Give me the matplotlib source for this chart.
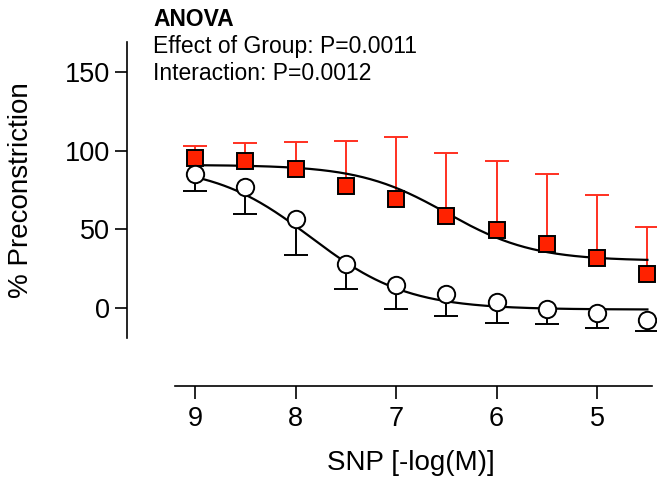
import numpy as np
import matplotlib
matplotlib.use("Agg")
import matplotlib.pyplot as plt

plt.rcParams['font.family'] = ['Liberation Sans', 'DejaVu Sans']

# Data
snp_x = [9.0, 8.5, 8.0, 7.5, 7.0, 6.5, 6.0, 5.5, 5.0, 4.5]
red_mean = [95.4, 93.5, 88.4, 77.6, 69.3, 58.5, 49.6, 40.7, 31.8, 21.6]
red_sem = [7.8, 11.2, 17.3, 28.8, 39.2, 39.8, 43.9, 44.7, 40.2, 29.7]
white_mean = [85.2, 76.7, 56.4, 27.8, 14.6, 8.7, 4.0, -0.6, -3.4, -7.6]
white_sem = [10.8, 16.9, 22.7, 15.5, 15.0, 13.8, 13.7, 9.8, 9.1, 7.0]

# Fitted sigmoid parameters (top, bottom, logEC50 in -log M, hill)
red_fit = dict(top=91.0, bottom=30.0, pec50=6.5, hill=1.0)
white_fit = dict(top=91.0, bottom=-1.0, pec50=7.85, hill=0.9)

xticks = [9, 8, 7, 6, 5]
yticks = [0, 50, 100, 150]

RED = '#FF2200'
RED_ERR = '#FF3020'

def sigmoid(x, p):
    return p['bottom'] + (p['top'] - p['bottom']) / (1 + 10 ** ((p['pec50'] - np.asarray(x)) * p['hill']))

fig = plt.figure(figsize=(6.57, 4.79), dpi=100)
ax = fig.add_axes([0.251, 0.2749, 0.7497, 0.6403])
ax.set_xlim(9.3, 4.4)
ax.set_ylim(-25, 170)

xs = np.linspace(max(snp_x), min(snp_x), 300)
ax.plot(xs, sigmoid(xs, red_fit), color='black', lw=1.6, zorder=2, clip_on=False)
ax.plot(xs, sigmoid(xs, white_fit), color='black', lw=1.6, zorder=2, clip_on=False)

# Error bars (one-sided)
eb = ax.errorbar(snp_x, red_mean, yerr=[np.zeros(len(red_sem)), red_sem], fmt='none',
                 ecolor=RED_ERR, elinewidth=1.4, capsize=8.5, capthick=1.4, zorder=1)
eb.lines[1][0].set_visible(False)
for a in eb.get_children():
    a.set_clip_on(False)
eb2 = ax.errorbar(snp_x, white_mean, yerr=[white_sem, np.zeros(len(white_sem))], fmt='none',
                  ecolor='black', elinewidth=1.4, capsize=8.5, capthick=1.4, zorder=1)
eb2.lines[1][1].set_visible(False)
for a in eb2.get_children():
    a.set_clip_on(False)

ax.plot(snp_x, red_mean, 's', ms=12, mfc=RED, mec='black', mew=1.4, ls='none', zorder=3, clip_on=False)
ax.plot(snp_x, white_mean, 'o', ms=12.5, mfc='white', mec='black', mew=1.4, ls='none', zorder=3, clip_on=False)

# Axes styling (detached spines)
for s in ['top', 'right']:
    ax.spines[s].set_visible(False)
ax.spines['left'].set_position(('outward', 27.5))
ax.spines['bottom'].set_position(('outward', 28))
ax.spines['left'].set_bounds(-19, 169)
ax.spines['bottom'].set_bounds(9.2, 4.45)
ax.spines['left'].set_linewidth(1.2)
ax.spines['bottom'].set_linewidth(1.2)
ax.set_xticks(xticks)
ax.set_yticks(yticks)
ax.set_xticklabels([str(v) for v in xticks])
ax.set_yticklabels([str(v) for v in yticks])
ax.tick_params(axis='both', direction='out', length=9, width=1.2, labelsize=19.5, color='black')
ax.tick_params(axis='x', pad=5)
ax.tick_params(axis='y', pad=3)

fig.text(21 / 657, 1 - 190 / 479, '% Preconstriction', rotation=90, ha='center', va='center', fontsize=20)
fig.text(411 / 657, 1 - 463 / 479, 'SNP [-log(M)]', ha='center', va='center', fontsize=20)

fig.text(153 / 657, 1 - 19 / 479, 'ANOVA', ha='left', va='center', fontsize=16.5, fontweight='bold')
fig.text(153 / 657, 1 - 47 / 479, 'Effect of Group: P=0.0011', ha='left', va='center', fontsize=16.5)
fig.text(153 / 657, 1 - 74 / 479, 'Interaction: P=0.0012', ha='left', va='center', fontsize=16.5)

fig.savefig('out.png', dpi=100)
